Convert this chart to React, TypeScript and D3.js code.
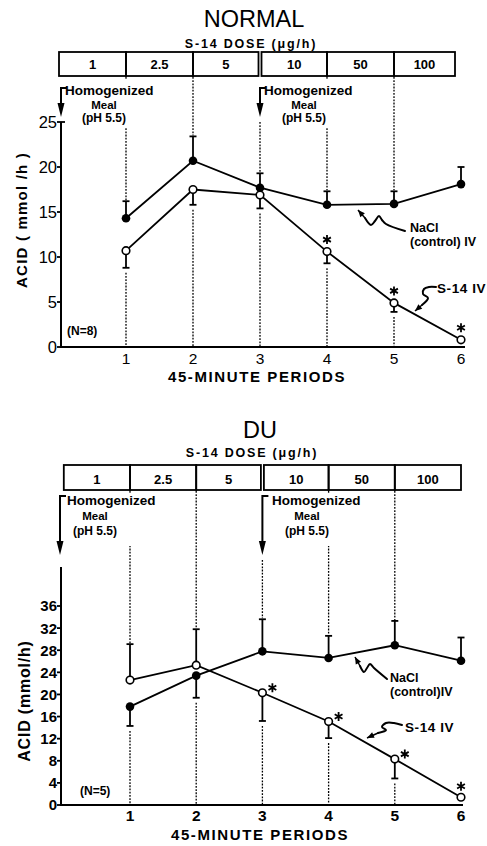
import React from "react";
import * as d3 from "d3";

// ---- data ----
const periods = [1, 2, 3, 4, 5, 6];
const doseLabels = ["1", "2.5", "5", "10", "50", "100"];
const dottedPeriods = [1, 2, 3, 4, 5];

const normalNaCl = [14.3, 20.7, 17.7, 15.8, 15.9, 18.1];
const normalNaClSem = [1.9, 2.7, 1.6, 1.5, 1.4, 1.9];
const normalS14 = [10.7, 17.5, 16.9, 10.6, 4.9, 0.8];
const normalS14Sem = [1.9, 1.7, 1.5, 1.3, 1.0, 0];
const normalStars = [4, 5, 6];
const normalTicks = [0, 5, 10, 15, 20, 25];

const duNaCl = [17.8, 23.4, 27.8, 26.6, 28.9, 26.1];
const duNaClSem = [3.5, 4.0, 5.8, 4.0, 4.4, 4.2];
const duS14 = [22.6, 25.3, 20.3, 15.1, 8.3, 1.4];
const duS14Sem = [6.5, 6.5, 5.1, 3.0, 3.5, 0];
const duStars = [3, 4, 5, 6];
const duTicks = [0, 4, 8, 12, 16, 20, 24, 28, 32, 36];

const FONT = "Liberation Sans, Arial, Helvetica, sans-serif";

type Pt = [number, number];

function Squiggle({ pts }: { pts: Pt[] }) {
  const line = d3.line<Pt>().curve(d3.curveCatmullRom.alpha(0.5));
  const [tx, ty] = pts[0];
  const [nx, ny] = pts[1];
  const ang = Math.atan2(ty - ny, tx - nx);
  const L = 7, W = 3;
  const bx = tx - L * Math.cos(ang), by = ty - L * Math.sin(ang);
  const head = `M${tx},${ty} L${bx + W * Math.sin(ang)},${by - W * Math.cos(ang)} L${bx - W * Math.sin(ang)},${by + W * Math.cos(ang)} Z`;
  return (
    <g>
      <path d={line(pts.slice(1)) || ""} fill="none" stroke="#000" strokeWidth={2} strokeLinecap="round" />
      <path d={`M${tx},${ty} L${nx},${ny}`} stroke="#000" strokeWidth={1.5} />
      <path d={head} fill="#000" />
    </g>
  );
}

function Star({ cx, cy }: { cx: number; cy: number }) {
  const r = 4.5;
  const s = r * Math.sin(Math.PI / 3), c = r * Math.cos(Math.PI / 3);
  const d = `M${cx},${cy - r}L${cx},${cy + r}M${cx - s},${cy - c}L${cx + s},${cy + c}M${cx - s},${cy + c}L${cx + s},${cy - c}`;
  return <path d={d} stroke="#000" strokeWidth={1.8} />;
}

function Panel(p: any) {
  const x = d3.scaleLinear().domain([0, 6]).range([p.x0, p.x6]);
  const y = d3.scaleLinear().domain([0, p.yMax]).range([p.y0, p.yTopPx]);
  const line = d3.line<number>().x((_, i) => x(periods[i])).y((v) => y(v));
  const ax = p.axisX;
  const other = (s: number[], o: number[], i: number) => (s[i] >= o[i] ? -1 : 1);

  const errBars = (vals: number[], sem: number[], oth: number[]) =>
    periods.map((t, i) => {
      if (!sem[i]) return null;
      const dir = other(vals, oth, i); // -1 up (pixel), 1 down
      const ye = dir < 0 ? y(vals[i] + sem[i]) : y(vals[i] - sem[i]);
      return (
        <g key={t}>
          <line x1={x(t)} x2={x(t)} y1={y(vals[i])} y2={ye} stroke="#000" strokeWidth={1.8} />
          <line x1={x(t) - 3.5} x2={x(t) + 3.5} y1={ye} y2={ye} stroke="#000" strokeWidth={1.8} />
        </g>
      );
    });

  const capExtent = (i: number) => {
    const ends = [
      p.nacl[i] >= p.s14[i] ? p.nacl[i] + p.naclSem[i] : p.nacl[i] - p.naclSem[i],
      p.s14[i] > p.nacl[i] ? p.s14[i] + p.s14Sem[i] : p.s14[i] - p.s14Sem[i],
      p.nacl[i], p.s14[i],
    ];
    return [y(d3.max(ends)!), y(d3.min(ends)!)];
  };

  const hom = (hx: number, mx: number, key: string) => (
    <g key={key} fontFamily={FONT} fontWeight="bold">
      <text x={hx} y={p.homY} fontSize={13.5}>Homogenized</text>
      <text x={mx} y={p.homY + p.homDy} fontSize={11.5} textAnchor="middle">Meal</text>
      <text x={mx} y={p.homY + 2 * p.homDy} fontSize={12} textAnchor="middle">(pH 5.5)</text>
    </g>
  );
  const arrow = (axp: number, key: string) => (
    <g key={key}>
      <path d={`M${axp + 6},${p.bracketY} L${axp},${p.bracketY} L${axp},${p.arrowTip - 10}`} fill="none" stroke="#000" strokeWidth={2} />
      <path d={`M${axp - 3.5},${p.arrowTip - 14} L${axp + 3.5},${p.arrowTip - 14} L${axp},${p.arrowTip} Z`} fill="#000" />
    </g>
  );

  return (
    <g>
      <text x={p.titleX} y={p.titleY} fontFamily={FONT} fontSize={23.5} textAnchor="middle">{p.title}</text>
      <text x={p.doseX} y={p.doseY} fontFamily={FONT} fontSize={12.5} fontWeight="bold" letterSpacing={1.8} textAnchor="middle">S-14 DOSE (μg/h)</text>

      {/* dose boxes */}
      {doseLabels.map((lab, i) => {
        const left = x(i) + (i === 3 ? 1.5 : 0);
        const right = x(i + 1) - (i === 2 ? 1.5 : 0) - (i === 5 ? p.boxTrim : 0);
        return (
          <g key={lab}>
            <rect x={left} y={p.boxTop} width={right - left} height={p.boxBot - p.boxTop} fill="none" stroke="#000" strokeWidth={1.8} />
            <text x={(left + right) / 2} y={p.boxText} fontFamily={FONT} fontSize={13} fontWeight="bold" textAnchor="middle">{lab}</text>
          </g>
        );
      })}

      {/* dotted period guides */}
      {dottedPeriods.map((t) => {
        const [yt, yb] = capExtent(t - 1);
        const start = t === 3 ? p.arrowTip + 5 : p.boxBot + 1;
        return (
          <g key={t} stroke="#000" strokeWidth={1.3} strokeDasharray="1.8,1.4">
            <line x1={x(t)} x2={x(t)} y1={start} y2={yt - 1} />
            <line x1={x(t)} x2={x(t)} y1={yb + 5} y2={p.y0} />
          </g>
        );
      })}
      <rect x={x(0) + 4} y={p.boxBot + 4} width={100} height={p.maskH} fill="#fff" />
      <rect x={x(3) + 3} y={p.boxBot + 4} width={100} height={p.maskH} fill="#fff" />
      {hom(p.hom1x, p.hom1m, "h1")}
      {hom(p.hom2x, p.hom2m, "h2")}
      {arrow(p.arrow1, "a1")}
      {arrow(x(3), "a2")}

      {/* axes */}
      <line x1={ax} x2={ax} y1={p.axisTop} y2={p.y0} stroke="#000" strokeWidth={2} />
      <line x1={ax - 1} x2={p.xAxisEnd} y1={p.y0} y2={p.y0} stroke="#000" strokeWidth={2} />
      {p.ticks.map((v: number) => (
        <g key={v}>
          <line x1={ax - 4} x2={ax} y1={y(v)} y2={y(v)} stroke="#000" strokeWidth={1.8} />
          <text x={ax - 4} y={y(v) + p.tickFont * 0.36} fontFamily={FONT} fontSize={p.tickFont} fontWeight={p.tickWeight} textAnchor="end">{v}</text>
        </g>
      ))}
      {topBracket(p.yTopTick, ax, y)}
      {periods.map((t) => (
        <text key={t} x={x(t)} y={p.xTickY} fontFamily={FONT} fontSize={15.5} fontWeight={p.tickWeight} textAnchor="middle">{t}</text>
      ))}
      <text x={p.xLabelX} y={p.xLabelY} fontFamily={FONT} fontSize={15} fontWeight="bold" letterSpacing={1.6} textAnchor="middle">45-MINUTE PERIODS</text>
      <text transform={`translate(${p.yLabelX},${p.yLabelY}) rotate(-90)`} fontFamily={FONT} fontSize={p.yLabelFont} fontWeight="bold" letterSpacing={p.yLabelLs} textAnchor="middle">{p.yLabel}</text>
      <text x={p.nX} y={p.nY} fontFamily={FONT} fontSize={12} fontWeight="bold">{p.nText}</text>

      {/* series */}
      {errBars(p.nacl, p.naclSem, p.s14)}
      {errBars(p.s14, p.s14Sem, p.nacl)}
      <path d={line(p.nacl) || ""} fill="none" stroke="#000" strokeWidth={1.8} />
      <path d={line(p.s14) || ""} fill="none" stroke="#000" strokeWidth={1.8} />
      {periods.map((t, i) => (
        <circle key={"n" + t} cx={x(t)} cy={y(p.nacl[i])} r={4.3} fill="#000" />
      ))}
      {periods.map((t, i) => (
        <circle key={"s" + t} cx={x(t)} cy={y(p.s14[i])} r={3.8} fill="#fff" stroke="#000" strokeWidth={1.6} />
      ))}
      {p.stars.map((t: number) => {
        const [dx, dy] = p.starOff(t);
        return <Star key={t} cx={x(t) + dx} cy={y(p.s14[t - 1]) + dy} />;
      })}

      {/* annotations */}
      <Squiggle pts={p.naclSq} />
      <Squiggle pts={p.s14Sq} />
      <g fontFamily={FONT} fontWeight="bold">
        <text x={p.naclX} y={p.naclY} fontSize={p.naclFont}>NaCl</text>
        <text x={p.naclX} y={p.naclY + 14} fontSize={p.naclFont}>{p.controlText}</text>
        <text x={p.s14X} y={p.s14Y} fontSize={13.5} letterSpacing={0.6}>S-14 IV</text>
      </g>
    </g>
  );
}

// small bracket at the top of the NORMAL y axis
function topBracket(tick: number | null, ax: number, y: d3.ScaleLinear<number, number>) {
  if (tick == null) return null;
  return <line x1={ax} x2={ax + 4} y1={y(tick)} y2={y(tick)} stroke="#000" strokeWidth={1.8} />;
}

export default function App() {
  const top = {
    title: "NORMAL", titleX: 254, titleY: 27, doseX: 251, doseY: 48,
    boxTop: 52, boxBot: 76, boxText: 69, boxTrim: 6,
    x0: 59, x6: 461, axisX: 61, y0: 347, yTopPx: 122, yMax: 25, axisTop: 122, yTopTick: 25,
    ticks: normalTicks, tickFont: 16.5, tickWeight: "normal",
    xTickY: 364, xLabelX: 257, xLabelY: 382, xAxisEnd: 465,
    yLabel: "ACID ( mmol /h )", yLabelX: 27, yLabelY: 220, yLabelFont: 15, yLabelLs: 1.2,
    nText: "(N=8)", nX: 67, nY: 335,
    homY: 95, homDy: 13.5, maskH: 48, bracketY: 88, arrowTip: 117,
    hom1x: 65, hom1m: 104, hom2x: 264, hom2m: 304, arrow1: 61,
    nacl: normalNaCl, naclSem: normalNaClSem, s14: normalS14, s14Sem: normalS14Sem,
    stars: normalStars, starOff: () => [0, -12],
    naclSq: [[358, 210], [365, 218], [371, 225], [375, 221], [379, 216], [382, 220], [386, 224], [405, 231]] as Pt[],
    s14Sq: [[415, 311], [422, 305], [428, 298], [423, 294], [424, 289], [429, 287], [436, 287]] as Pt[],
    naclX: 410, naclY: 232, naclFont: 12.5, controlText: "(control) IV",
    s14X: 437, s14Y: 293,
  };
  const bottom = {
    title: "DU", titleX: 260, titleY: 438, doseX: 252, doseY: 457,
    boxTop: 465, boxBot: 490, boxText: 484, boxTrim: 0,
    x0: 63.8, x6: 461, axisX: 61, y0: 805, yTopPx: 606, yMax: 36, axisTop: 567, yTopTick: null,
    ticks: duTicks, tickFont: 15, tickWeight: "bold",
    xTickY: 821, xLabelX: 260, xLabelY: 840, xAxisEnd: 463,
    yLabel: "ACID (mmol/h)", yLabelX: 30, yLabelY: 701, yLabelFont: 16, yLabelLs: 0.8,
    nText: "(N=5)", nX: 80, nY: 795,
    homY: 505, homDy: 15, maskH: 52, bracketY: 496, arrowTip: 555,
    hom1x: 67, hom1m: 95, hom2x: 272, hom2m: 307, arrow1: 60,
    nacl: duNaCl, naclSem: duNaClSem, s14: duS14, s14Sem: duS14Sem,
    stars: duStars, starOff: (t: number) => (t < 6 ? [10, -5] : [0, -11]),
    naclSq: [[355, 657], [360, 666], [364, 672], [367, 668], [370, 664], [374, 668], [387, 679]] as Pt[],
    s14Sq: [[367, 738], [378, 733], [386, 730], [382, 727], [386, 723], [394, 723], [402, 725]] as Pt[],
    naclX: 390, naclY: 682, naclFont: 12.5, controlText: "(control)IV",
    s14X: 405, s14Y: 732,
  };
  return (
    <svg width={487} height={846} style={{ position: "absolute", left: 0, top: 0, background: "#fff" }}>
      <rect width={487} height={846} fill="#fff" />
      <Panel {...top} />
      <Panel {...bottom} />
    </svg>
  );
}
